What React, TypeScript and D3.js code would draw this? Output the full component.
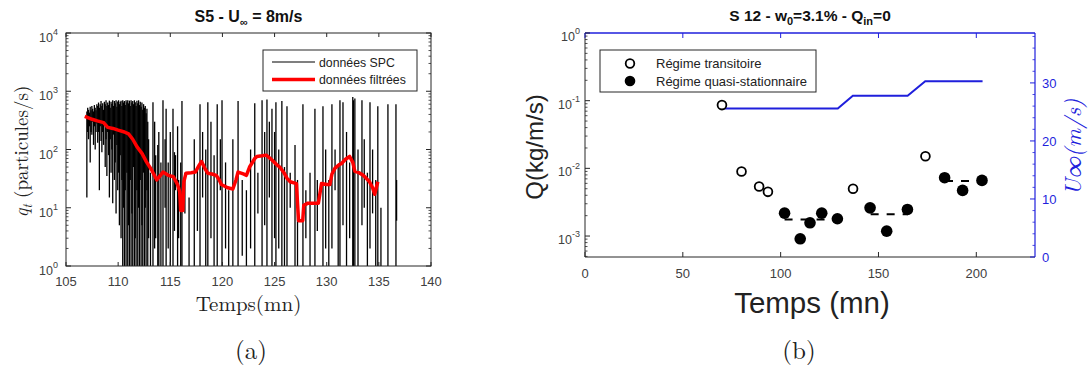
import React from 'react';
import * as d3 from 'd3';

// ---------- Panel (a) data ----------
const xTicksA = [105, 110, 115, 120, 125, 130, 135, 140];
const yTicksA = [1, 10, 100, 1000, 10000];
const yTickExpA = ['0', '1', '2', '3', '4'];

// SPC raw signal, read as vertical excursions: time (mn), lowest and highest q (particules/s)
const spcTime = [
  107.00, 107.08, 107.16, 107.24, 107.32, 107.40, 107.48, 107.56, 107.64, 107.72, 107.80, 107.88, 107.96,
  108.04, 108.12, 108.20, 108.28, 108.36, 108.44, 108.52, 108.60, 108.68, 108.76, 108.84, 108.92,
  109.00, 109.08, 109.16, 109.24, 109.32, 109.40, 109.48, 109.56, 109.64, 109.72, 109.80, 109.88, 109.96,
  110.04, 110.12, 110.20, 110.28, 110.36, 110.44, 110.52, 110.60, 110.68, 110.76, 110.84, 110.92,
  111.00, 111.08, 111.16, 111.24, 111.32, 111.40, 111.48, 111.56, 111.64, 111.72, 111.80, 111.88, 111.96,
  112.04, 112.12, 112.20, 112.28, 112.36, 112.44, 112.52, 112.60, 112.68, 112.76, 112.84, 112.92,
  113.10, 113.34, 113.50, 113.60, 113.80, 113.90, 114.10, 114.30, 114.50, 114.60, 114.80, 115.00, 115.26,
  115.40, 115.50, 115.70, 115.80, 116.00, 116.12, 116.40, 116.80, 117.30, 117.60, 117.85, 118.10, 118.40,
  118.60, 118.90, 119.20, 119.50, 119.80, 119.96, 120.30, 120.60, 121.00, 121.50, 121.90, 122.30, 122.70,
  123.10, 123.40, 123.80, 124.05, 124.27, 124.50, 124.75, 125.00, 125.13, 125.40, 125.70, 125.95, 126.19,
  126.50, 126.96, 127.20, 127.72, 128.00, 128.40, 128.87, 129.10, 129.64, 129.90, 130.20, 130.50, 130.80,
  131.10, 131.27, 131.56, 131.90, 132.20, 132.50, 132.56, 132.70, 133.00, 133.38, 133.60, 133.90, 134.15,
  134.40, 134.70, 134.90, 135.20, 135.87, 136.64, 136.70,
];
const spcLow = [
  15, 200, 150, 250, 60, 200, 180, 300, 120, 250, 100, 200, 280,
  130, 200, 20, 250, 140, 90, 200, 120, 300, 50, 150, 35,
  200, 80, 15, 150, 40, 100, 12, 180, 30, 60, 8, 120, 20,
  40, 5, 80, 3, 30, 0.5, 10, 0.5, 20, 0.5, 40, 0.5,
  5, 0.5, 30, 0.5, 8, 0.5, 50, 0.5, 3, 0.5, 20, 0.5, 10,
  0.5, 30, 0.5, 5, 0.5, 40, 0.5, 10, 0.5, 20, 0.5, 3,
  0.5, 0.5, 2, 3, 0.5, 0.5, 1, 0.5, 10, 0.5, 2, 0.5, 0.5,
  4, 20, 0.5, 3, 0.5, 0.5, 8, 0.5, 0.5, 4, 0.5, 15, 0.5,
  0.5, 3, 0.5, 0.5, 20, 0.5, 2, 0.5, 0.5, 0.5, 1.5, 0.5, 2,
  0.5, 8, 0.5, 5, 0.5, 15, 0.5, 3, 0.5, 2, 0.5, 0.5, 0.5,
  10, 1, 0.5, 0.5, 3, 0.5, 1, 4, 0.5, 2, 0.5, 2, 20,
  0.5, 0.5, 5, 0.5, 3, 0.5, 0.5, 0.5, 0.5, 5, 10, 0.5, 2,
  8, 0.5, 0.5, 0.5, 0.5, 0.5, 6,
];
const spcHigh = [
  450, 520, 480, 430, 540, 470, 560, 500, 450, 580, 520, 470, 600,
  560, 640, 520, 600, 680, 560, 620, 480, 660, 600, 700, 560,
  640, 580, 690, 520, 660, 610, 700, 560, 680, 620, 700, 540, 670,
  700, 600, 660, 690, 560, 700, 640, 680, 580, 700, 650, 700,
  620, 690, 560, 700, 640, 680, 600, 700, 650, 560, 690, 620, 700,
  580, 660, 540, 640, 480, 600, 520, 560, 420, 500, 300, 150,
  40, 650, 300, 80, 120, 200, 60, 700, 150, 500, 60, 200, 500,
  90, 80, 250, 30, 60, 680, 40, 15, 150, 50, 600, 200, 100,
  650, 300, 80, 600, 150, 700, 60, 20, 150, 680, 30, 20, 100,
  620, 40, 700, 200, 720, 300, 500, 200, 650, 100, 680, 50, 550,
  40, 120, 30, 600, 20, 40, 500, 30, 550, 100, 30, 600, 100,
  50, 700, 650, 200, 60, 800, 700, 750, 100, 700, 150, 40, 650,
  100, 30, 550, 10, 600, 600, 30,
];

// Filtered signal
const filtTime = [106.8, 107.5, 108.0, 108.6, 109.0, 109.5, 110.0, 110.6, 111.0, 111.4, 111.8, 112.3, 112.7, 113.2, 113.7,
  114.0, 114.3, 114.8, 115.3, 115.7, 115.9, 116.0, 116.2, 116.3, 116.5, 117.0, 117.4, 117.8, 118.0, 118.3, 118.6, 119.0,
  119.4, 119.7, 119.9, 120.5, 121.0, 121.3, 121.5, 122.0, 122.3, 122.6, 122.8, 123.1, 123.3, 123.8, 124.2, 124.6, 124.9,
  125.2, 125.5, 125.9, 126.2, 126.5, 127.1, 127.2, 127.3, 127.7, 127.8, 128.2, 128.8, 129.2, 129.4, 129.5, 130.0, 130.3,
  130.5, 130.8, 131.2, 131.4, 131.8, 132.2, 132.5, 132.7, 133.1, 133.5, 133.8, 134.1, 134.4, 134.6, 134.75, 134.9];
const filtValue = [370, 330, 310, 290, 240, 230, 215, 200, 185, 150, 112, 85, 62, 45, 30,
  35, 41, 36, 34, 25, 19, 9, 9, 28, 39, 40, 41, 55, 62, 48, 39, 38,
  36, 30, 25, 22, 21, 30, 41, 38, 36, 50, 57, 70, 76, 78, 80, 70, 62,
  55, 50, 40, 32, 28, 26, 12, 6, 6, 11, 12, 12, 12, 20, 26, 25, 25,
  38, 48, 55, 57, 68, 76, 60, 42, 40, 36, 32, 28, 22, 17, 22, 28];

// ---------- Panel (b) data ----------
const xTicksB = [0, 50, 100, 150, 200];
const yTicksB = [1e-3, 1e-2, 1e-1, 1];
const yTickExpB = ['-3', '-2', '-1', '0'];
const uTicks = [0, 10, 20, 30];

const transTime = [70, 80, 89, 93.5, 137, 174];
const transQ = [0.086, 0.009, 0.0054, 0.0045, 0.005, 0.0151];
const quasiTime = [102, 110, 115, 121, 129, 145.7, 154.2, 164.8, 183.8, 193, 202.9];
const quasiQ = [0.00218, 0.00091, 0.00157, 0.00218, 0.0018, 0.00261, 0.00118, 0.00247, 0.00728, 0.00472, 0.00664];
const meanStart = [102, 146, 184];
const meanEnd = [129, 165, 203];
const meanQ = [0.00175, 0.0021, 0.0065];
const windTime = [70, 129.2, 136.9, 164.9, 173.9, 203.2];
const windSpeed = [25.6, 25.6, 27.8, 27.8, 30.3, 30.3];

const BLUE = '#1f1fdc';
const AX = '#262626';
const TICKTXT = '#404040';

function logMinor(lo: number, hi: number) {
  const out: number[] = [];
  for (let e = Math.floor(Math.log10(lo)); e < Math.ceil(Math.log10(hi)); e++) {
    for (let m = 2; m <= 9; m++) {
      const v = m * Math.pow(10, e);
      if (v >= lo && v <= hi) out.push(v);
    }
  }
  return out;
}

export default function App() {
  // Panel A geometry
  const A = { l: 66, r: 431, t: 33, b: 266 };
  const xA = d3.scaleLinear().domain([105, 140]).range([A.l, A.r]);
  const yA = d3.scaleLog().domain([1, 10000]).range([A.b, A.t]);
  const filtPts: [number, number][] = filtTime.map((t, i) => [t, filtValue[i]]);
  const filtLine = d3.line<[number, number]>().x(d => xA(d[0])).y(d => yA(d[1]))(filtPts) || '';
  const minorA = logMinor(1, 10000);

  // Panel B geometry
  const B = { l: 585, r: 1035, t: 33, b: 257 };
  const xB = d3.scaleLinear().domain([0, 230]).range([B.l, B.r]);
  const yB = d3.scaleLog().domain([4.9e-4, 1]).range([B.b, B.t]);
  const yU = d3.scaleLinear().domain([0, 38.6]).range([B.b, B.t]);
  const windPts: [number, number][] = windTime.map((t, i) => [t, windSpeed[i]]);
  const windLine = d3.line<[number, number]>().x(d => xB(d[0])).y(d => yU(d[1]))(windPts) || '';
  const minorB = logMinor(4.9e-4, 1);
  const minorU = d3.range(0, 38.6, 2).filter(v => v % 10 !== 0);

  const sans = 'Arial, "Liberation Sans", Helvetica, sans-serif';
  const serif = '"Latin Modern Roman", "CMU Serif", "Liberation Serif", "DejaVu Serif", serif';

  return (
    <svg width={1088} height={367} style={{ position: 'absolute', left: 0, top: 0, background: '#fff' }}
      xmlns="http://www.w3.org/2000/svg">
      <defs>
        <clipPath id="clipA"><rect x={A.l} y={A.t} width={A.r - A.l} height={A.b - A.t} /></clipPath>
        <clipPath id="clipB"><rect x={B.l} y={B.t} width={B.r - B.l} height={B.b - B.t} /></clipPath>
      </defs>
      <rect x={0} y={0} width={1088} height={367} fill="#fff" />

      {/* ================= Panel A ================= */}
      <g clipPath="url(#clipA)">
        {spcTime.map((t, i) => (
          <line key={'s' + i} x1={xA(t)} x2={xA(t)} y1={yA(Math.max(spcLow[i], 0.3))} y2={yA(spcHigh[i])}
            stroke="#000" strokeWidth={1.3} />
        ))}
        <path d={filtLine} fill="none" stroke="#ff0000" strokeWidth={3.5} strokeLinejoin="round" />
      </g>
      <rect x={A.l} y={A.t} width={A.r - A.l} height={A.b - A.t} fill="none" stroke={AX} strokeWidth={1} />
      {xTicksA.map(v => (
        <g key={'xa' + v}>
          <line x1={xA(v)} x2={xA(v)} y1={A.b} y2={A.b - 4} stroke={AX} />
          <line x1={xA(v)} x2={xA(v)} y1={A.t} y2={A.t + 4} stroke={AX} />
          <text x={xA(v)} y={A.b + 20} textAnchor="middle" fontFamily={sans} fontSize={13} fill={TICKTXT}>{v}</text>
        </g>
      ))}
      {yTicksA.map((v, i) => (
        <g key={'ya' + v}>
          <line x1={A.l} x2={A.l + 5} y1={yA(v)} y2={yA(v)} stroke={AX} />
          <line x1={A.r} x2={A.r - 5} y1={yA(v)} y2={yA(v)} stroke={AX} />
          <text x={A.l - 8} y={yA(v) + 9} textAnchor="end" fontFamily={sans} fontSize={12.5} fill={TICKTXT}>
            10<tspan dy={-7} fontSize={9}>{yTickExpA[i]}</tspan>
          </text>
        </g>
      ))}
      {minorA.map(v => (
        <g key={'ma' + v}>
          <line x1={A.l} x2={A.l + 2.5} y1={yA(v)} y2={yA(v)} stroke={AX} strokeWidth={0.8} />
          <line x1={A.r} x2={A.r - 2.5} y1={yA(v)} y2={yA(v)} stroke={AX} strokeWidth={0.8} />
        </g>
      ))}
      <text x={(A.l + A.r) / 2} y={22} textAnchor="middle" fontFamily={sans} fontWeight="bold" fontSize={16} fill="#111">
        S5 - U<tspan dy={4} fontSize={11}>∞</tspan><tspan dy={-4}> = 8m/s</tspan>
      </text>
      {/* legend A */}
      <rect x={263} y={50} width={154} height={41} fill="#fff" stroke={AX} strokeWidth={1} />
      <line x1={272} x2={315} y1={62} y2={62} stroke="#000" strokeWidth={1.2} />
      <line x1={272} x2={315} y1={79.5} y2={79.5} stroke="#ff0000" strokeWidth={3.5} />
      <text x={319} y={66.5} fontFamily={sans} fontSize={12.3} fill="#222">données SPC</text>
      <text x={319} y={84} fontFamily={sans} fontSize={12.3} fill="#222">données filtrées</text>
      {/* axis labels A */}
      <text transform={`translate(28,${(A.t + A.b) / 2 + 2}) rotate(-90)`} textAnchor="middle" fontFamily={serif} fontSize={19} fill="#222">
        <tspan fontStyle="italic">q</tspan><tspan fontStyle="italic" fontSize={13} dy={4}>t</tspan><tspan dy={-4}> (particules/s)</tspan>
      </text>
      <text x={(A.l + A.r) / 2} y={311} textAnchor="middle" fontFamily={serif} fontSize={21} fill="#222">Temps(mn)</text>
      <text x={251} y={359} textAnchor="middle" fontFamily={serif} fontSize={25} fill="#222">(a)</text>

      {/* ================= Panel B ================= */}
      <g clipPath="url(#clipB)">
        <path d={windLine} fill="none" stroke={BLUE} strokeWidth={2} />
        {meanQ.map((q, i) => (
          <line key={'mq' + i} x1={xB(meanStart[i])} x2={xB(meanEnd[i])} y1={yB(q)} y2={yB(q)}
            stroke="#000" strokeWidth={2} strokeDasharray="8,8" />
        ))}
        {transTime.map((t, i) => (
          <circle key={'tr' + i} cx={xB(t)} cy={yB(transQ[i])} r={4.4} fill="#fff" stroke="#000" strokeWidth={1.8} />
        ))}
        {quasiTime.map((t, i) => (
          <circle key={'qs' + i} cx={xB(t)} cy={yB(quasiQ[i])} r={5.8} fill="#000" />
        ))}
      </g>
      {/* axes B */}
      <line x1={B.l} x2={B.r} y1={B.b} y2={B.b} stroke={AX} />
      <line x1={B.l} x2={B.l} y1={B.t} y2={B.b} stroke={AX} />
      <line x1={B.l} x2={B.r} y1={B.t} y2={B.t} stroke={BLUE} strokeWidth={1.6} />
      <line x1={B.r} x2={B.r} y1={B.t} y2={B.b} stroke={BLUE} strokeWidth={1.2} />
      {xTicksB.map(v => (
        <g key={'xb' + v}>
          <line x1={xB(v)} x2={xB(v)} y1={B.b} y2={B.b - 5} stroke={AX} />
          <line x1={xB(v)} x2={xB(v)} y1={B.t} y2={B.t + 5} stroke={BLUE} />
          <text x={xB(v)} y={B.b + 21} textAnchor="middle" fontFamily={sans} fontSize={13} fill={TICKTXT}>{v}</text>
        </g>
      ))}
      {yTicksB.map((v, i) => (
        <g key={'yb' + v}>
          <line x1={B.l} x2={B.l + 5} y1={yB(v)} y2={yB(v)} stroke={AX} />
          <text x={B.l - 5} y={yB(v) + 8} textAnchor="end" fontFamily={sans} fontSize={12.5} fill={TICKTXT}>
            10<tspan dy={-7} fontSize={9}>{yTickExpB[i]}</tspan>
          </text>
        </g>
      ))}
      {minorB.map(v => (
        <line key={'mb' + v} x1={B.l} x2={B.l + 2.5} y1={yB(v)} y2={yB(v)} stroke={AX} strokeWidth={0.8} />
      ))}
      {uTicks.map(v => (
        <g key={'u' + v}>
          <line x1={B.r} x2={B.r - 5} y1={yU(v)} y2={yU(v)} stroke={BLUE} />
          <text x={B.r + 7} y={yU(v) + 5} fontFamily={sans} fontSize={13} fill={BLUE}>{v}</text>
        </g>
      ))}
      {minorU.map(v => (
        <line key={'mu' + v} x1={B.r} x2={B.r - 2.5} y1={yU(v)} y2={yU(v)} stroke={BLUE} strokeWidth={0.8} />
      ))}
      <text x={(B.l + B.r) / 2} y={21} textAnchor="middle" fontFamily={sans} fontWeight="bold" fontSize={15.5} fill="#111">
        S 12 - w<tspan dy={4} fontSize={11}>0</tspan><tspan dy={-4}>=3.1% - Q</tspan><tspan dy={4} fontSize={11}>in</tspan><tspan dy={-4}>=0</tspan>
      </text>
      {/* legend B */}
      <rect x={600} y={50} width={216} height={42} fill="#fff" stroke={AX} strokeWidth={1} />
      <circle cx={630} cy={63.5} r={4.3} fill="#fff" stroke="#000" strokeWidth={1.8} />
      <circle cx={630} cy={81} r={5.3} fill="#000" />
      <text x={656} y={68} fontFamily={sans} fontSize={13} fill="#222">Régime transitoire</text>
      <text x={656} y={86} fontFamily={sans} fontSize={13} fill="#222">Régime quasi-stationnaire</text>
      {/* labels B */}
      <text transform={`translate(543,${(B.t + B.b) / 2 + 2}) rotate(-90)`} textAnchor="middle" fontFamily={sans} fontSize={24} fill="#222">
        Q(kg/m/s)
      </text>
      <text transform={`translate(1081,${(B.t + B.b) / 2 + 2}) rotate(-90)`} textAnchor="middle" fontFamily={serif} fontSize={23} fill={BLUE} fontStyle="italic">
        U∞(m/s)
      </text>
      <text x={812} y={313} textAnchor="middle" fontFamily={sans} fontSize={29.5} fill="#222">Temps (mn)</text>
      <text x={799} y={359} textAnchor="middle" fontFamily={serif} fontSize={25} fill="#222">(b)</text>
    </svg>
  );
}
